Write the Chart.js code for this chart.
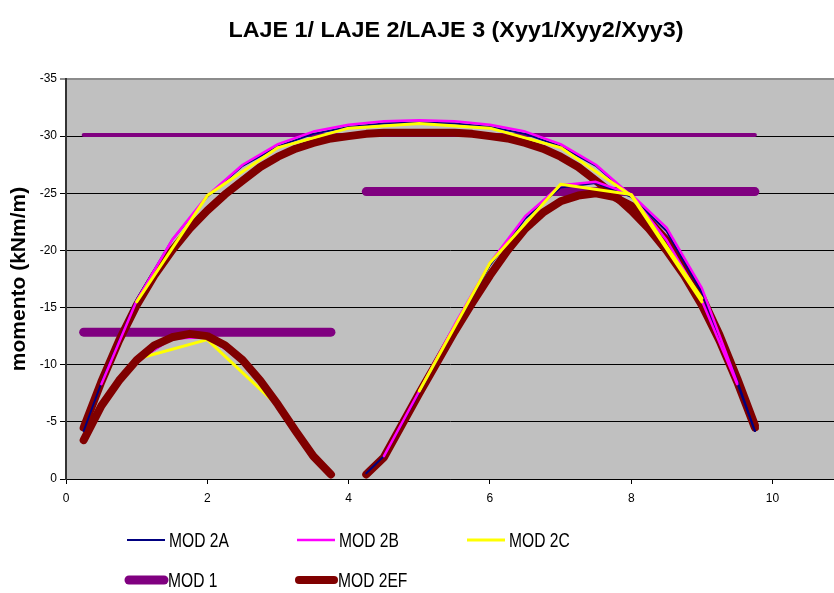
<!DOCTYPE html>
<html>
<head>
<meta charset="utf-8">
<script src="https://cdn.jsdelivr.net/npm/chart.js@4.4.0/dist/chart.umd.min.js"></script>
<style>
  html, body { margin: 0; padding: 0; background: #fff; overflow: hidden; }
  #wrap { width: 834px; height: 593px; }
</style>
</head>
<body>
<div id="wrap"><canvas id="c" width="834" height="593"></canvas></div>
<script>
// ---- Moment curves, x in m, values in kNm/m ----

// MOD 2EF (fine sampling)
const xEF1 = [0.25,0.5,0.75,1,1.25,1.5,1.75,2,2.25,2.5,2.75,3,3.25,3.5,3.75,4,4.25,4.5,4.75,5,
              5.25,5.5,5.75,6,6.25,6.5,6.75,7,7.25,7.5,7.75,8,8.25,8.5,8.75,9,9.25,9.5,9.75];
const ef1  = [-4.5,-8.5,-12.1,-15.2,-17.8,-20.0,-21.9,-23.5,-24.9,-26.1,-27.3,-28.2,-28.9,-29.4,-29.8,-30.0,-30.2,-30.3,-30.3,-30.3,
              -30.3,-30.3,-30.2,-30.0,-29.8,-29.4,-28.9,-28.2,-27.3,-26.1,-24.9,-23.5,-21.9,-20.0,-17.8,-15.2,-12.1,-8.5,-4.5];
const xEF2 = [0.25,0.5,0.75,1,1.25,1.5,1.75,2,2.25,2.5,2.75,3,3.25,3.5,3.75];
const ef2  = [-3.4,-6.4,-8.6,-10.4,-11.7,-12.4,-12.7,-12.5,-11.7,-10.4,-8.6,-6.5,-4.2,-2.0,-0.4];
const xEF3 = [4.25,4.5,4.75,5,5.25,5.5,5.75,6,6.25,6.5,6.75,7,7.25,7.5,7.75,8,8.25,8.5,8.75,9,9.25,9.5,9.75];
const ef3  = [-0.4,-1.9,-4.7,-7.5,-10.2,-12.9,-15.4,-17.8,-20.0,-21.9,-23.3,-24.3,-24.8,-25.0,-24.7,-23.9,-22.6,-20.9,-18.6,-15.9,-12.6,-8.8,-4.7];

// MOD 2A
const xA1 = [0.25,0.5,1,1.5,2,2.5,3,3.5,4,4.5,5,5.5,6,6.5,7,7.5,8,8.5,9,9.5,9.75];
const a1  = [-4.2,-8.4,-15.7,-20.9,-24.7,-27.4,-29.1,-30.2,-30.8,-31.1,-31.2,-31.1,-30.8,-30.2,-29.1,-27.4,-24.7,-20.9,-15.7,-8.4,-4.2];
const xA2 = [0.25,0.5,1,1.5,2,2.5,3,3.5,3.75];
const a2  = [-3.4,-6.3,-10.3,-12.3,-12.4,-10.4,-6.6,-2.1,-0.5];
const xA3 = [4.25,4.5,5,5.5,6,6.5,7,7.5,8,8.5,9,9.5,9.75];
const a3  = [-0.5,-2.0,-7.6,-13.3,-18.7,-22.8,-25.5,-25.9,-24.7,-21.7,-16.3,-8.6,-4.2];

// MOD 2B
const xB1 = [0.5,1,1.5,2,2.5,3,3.5,4,4.5,5,5.5,6,6.5,7,7.5,8,8.5,9,9.5];
const b1  = [-8.3,-15.6,-20.9,-24.8,-27.5,-29.3,-30.4,-31.0,-31.3,-31.4,-31.3,-31.0,-30.4,-29.3,-27.5,-24.8,-20.9,-15.6,-8.3];
const xB2 = [0.5,1,1.5,2,2.5,3,3.5];
const b2  = [-6.3,-10.3,-12.3,-12.4,-10.4,-6.6,-2.1];
const xB3 = [4.5,5,5.5,6,6.5,7,7.5,8,8.5,9,9.5];
const b3  = [-2.0,-7.7,-13.5,-18.9,-23.0,-25.7,-26.0,-24.9,-22.0,-16.7,-8.4];

// MOD 2C
const xC1 = [1,2,3,4,5,6,7,8,9];
const c1  = [-15.5,-24.8,-29.0,-30.7,-31.1,-30.7,-29.0,-24.8,-15.5];
const xC2 = [1,2,3];
const c2  = [-10.5,-12.2,-6.4];
const xC3 = [5,6,7,8,9];
const c3  = [-7.7,-18.9,-25.8,-24.9,-15.8];

// MOD 1 (constant values per slab)
const xM1 = [0.25, 9.75];   const m1 = [-30.1, -30.1];
const xM2 = [0.25, 3.75];   const m2 = [-12.85, -12.85];
const xM3 = [4.25, 9.75];   const m3 = [-25.15, -25.15];

const yTicks = [0, -5, -10, -15, -20, -25, -30, -35];
const xTicks = [0, 2, 4, 6, 8, 10];

// ---- styling ----
const C_A = '#000080', C_B = '#FF00FF', C_C = '#FFFF00', C_M1 = '#800080', C_EF = '#800000';
const FONT = '"Liberation Sans", Arial, sans-serif';

const pts = (xs, ys) => xs.map((x, i) => ({ x: x, y: ys[i] }));

function line(label, xs, ys, color, width, order, legend) {
  return {
    label: label,
    data: pts(xs, ys),
    borderColor: color,
    backgroundColor: color,
    borderWidth: width,
    pointRadius: 0,
    pointHoverRadius: 0,
    tension: 0,
    fill: false,
    borderCapStyle: 'round',
    borderJoinStyle: 'round',
    order: order,
    inLegend: legend
  };
}

const datasets = [
  line('MOD 2A',  xA1, a1, C_A, 2, 4, true),
  line('MOD 2B',  xB1, b1, C_B, 2.5, 3, true),
  line('MOD 2C',  xC1, c1, C_C, 3, 2, true),
  line('MOD 2A',  xA3, a3, C_A, 2, 4, false),
  line('MOD 2B',  xB3, b3, C_B, 2.5, 3, false),
  line('MOD 2C',  xC3, c3, C_C, 3, 2, false),
  line('MOD 1',   xM2, m2, C_M1, 9, 10, true),
  line('MOD 2EF', xEF1, ef1, C_EF, 8, 5, true),
  line('MOD 2EF', xEF2, ef2, C_EF, 8, 5, false),
  line('MOD 2EF', xEF3, ef3, C_EF, 8, 5, false),
  line('MOD 2A',  xA2, a2, C_A, 2, 8, false),
  line('MOD 2B',  xB2, b2, C_B, 2.5, 7, false),
  line('MOD 2C',  xC2, c2, C_C, 3, 6, false),
  line('MOD 1',   xM1, m1, C_M1, 4, 10, false),
  line('MOD 1',   xM3, m3, C_M1, 9, 10, false)
];

// grey plot background
const plotBackground = {
  id: 'plotBackground',
  beforeDraw(chart) {
    const a = chart.chartArea, ctx = chart.ctx;
    ctx.save();
    ctx.fillStyle = '#C0C0C0';
    ctx.fillRect(a.left, a.top, a.right - a.left, a.bottom - a.top);
    ctx.restore();
  }
};

// chart heading
const heading = {
  id: 'heading',
  afterDraw(chart) {
    const ctx = chart.ctx;
    ctx.save();
    ctx.translate(456, 31);
    ctx.scale(1.06, 1);
    ctx.fillStyle = '#000';
    ctx.font = 'bold 22px ' + FONT;
    ctx.textAlign = 'center';
    ctx.textBaseline = 'middle';
    ctx.fillText('LAJE 1/ LAJE 2/LAJE 3 (Xyy1/Xyy2/Xyy3)', 0, 0);
    ctx.restore();
  }
};

// legend in two rows, three columns
const legendLayout = [
  { x: 127, y: 540 }, { x: 297, y: 540 }, { x: 467, y: 540 },
  { x: 126, y: 580 }, { x: 296, y: 580 }
];
const gridLegend = {
  id: 'gridLegend',
  afterDraw(chart) {
    const ctx = chart.ctx;
    const items = chart.data.datasets.filter(d => d.inLegend);
    const ordered = ['MOD 2A', 'MOD 2B', 'MOD 2C', 'MOD 1', 'MOD 2EF']
      .map(l => items.find(d => d.label === l));
    ctx.save();
    ordered.forEach((d, i) => {
      const p = legendLayout[i];
      ctx.strokeStyle = d.borderColor;
      ctx.lineWidth = d.borderWidth;
      ctx.lineCap = d.borderWidth > 5 ? 'round' : 'butt';
      ctx.beginPath();
      const x0 = p.x + (d.borderWidth > 5 ? 3 : 0);
      ctx.moveTo(x0, p.y);
      ctx.lineTo(p.x + 38, p.y);
      ctx.stroke();
      ctx.save();
      ctx.translate(p.x + 42, p.y);
      ctx.scale(0.78, 1);
      ctx.fillStyle = '#000';
      ctx.font = '20px ' + FONT;
      ctx.textAlign = 'left';
      ctx.textBaseline = 'middle';
      ctx.fillText(d.label, 0, 1);
      ctx.restore();
    });
    ctx.restore();
  }
};

new Chart(document.getElementById('c'), {
  type: 'line',
  data: { datasets: datasets },
  plugins: [plotBackground, heading, gridLegend],
  options: {
    responsive: false,
    animation: false,
    devicePixelRatio: 1,
    layout: { padding: { top: 79, left: 0, right: 0, bottom: 84 } },
    plugins: {
      legend: { display: false },
      title: { display: false },
      tooltip: { enabled: false }
    },
    scales: {
      x: {
        type: 'linear',
        min: 0,
        max: 10.87,
        afterBuildTicks(scale) { scale.ticks = xTicks.map(v => ({ value: v })); },
        afterFit(scale) { scale.height = 30; },
        grid: { display: true, drawOnChartArea: false, drawTicks: true, tickLength: 5, color: '#000' },
        border: { display: true, color: '#000', width: 1 },
        ticks: { padding: 7, color: '#000', font: { family: FONT, size: 12 } }
      },
      y: {
        type: 'linear',
        reverse: true,
        min: -35,
        max: 0,
        afterBuildTicks(scale) { scale.ticks = yTicks.map(v => ({ value: v })); },
        afterFit(scale) { scale.width = 66; },
        grid: {
          display: true,
          drawTicks: true,
          tickLength: 6,
          color: c => (c.tick && c.tick.value === -35) ? '#8C8C8C' : '#000',
          lineWidth: c => (c.tick && c.tick.value === -35) ? 2 : 1
        },
        border: { display: true, color: '#333', width: 2 },
        ticks: { padding: 3, color: '#000', font: { family: FONT, size: 12 } },
        title: {
          display: true,
          text: 'momento (kNm/m)',
          color: '#000',
          font: { family: FONT, size: 21, weight: 'bold' },
          padding: { top: 7, bottom: 0 }
        }
      }
    }
  }
});
</script>
</body>
</html>
